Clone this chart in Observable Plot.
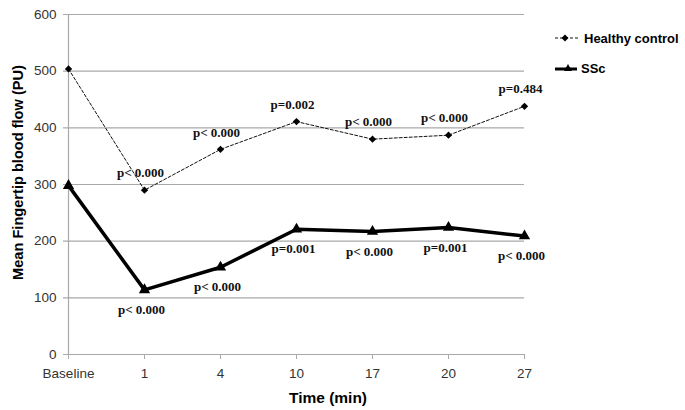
<!DOCTYPE html>
<html>
<head>
<meta charset="utf-8">
<script src="https://cdn.jsdelivr.net/npm/d3@7"></script>
<script src="https://cdn.jsdelivr.net/npm/@observablehq/plot@0.6"></script>
<style>
  html, body { margin: 0; padding: 0; background: #fff; }
  #wrap { position: relative; width: 685px; height: 410px; }
  #legend { position: absolute; left: 555px; top: 27px; font-family: "Liberation Sans", Arial, sans-serif; font-weight: bold; font-size: 13px; color: #000; }
  .row { display: flex; align-items: center; height: 22px; }
  .row svg { margin-right: 2px; }
</style>
</head>
<body>
<div id="wrap">
  <div id="chart"></div>
  <div id="legend"></div>
</div>
<script>
const categories = ["Baseline", "1", "4", "10", "17", "20", "27"];
const healthy = [504, 290, 362, 411, 380, 387, 438];
const ssc = [298, 114, 154, 221, 217, 224, 209];
const healthyP = [null, "p< 0.000", "p< 0.000", "p=0.002", "p< 0.000", "p< 0.000", "p=0.484"];
const sscP = [null, "p< 0.000", "p< 0.000", "p=0.001", "p< 0.000", "p=0.001", "p< 0.000"];
const yTicks = [0, 100, 200, 300, 400, 500, 600];
const seriesNames = ["Healthy control", "SSc"];

const hData = categories.map((t, i) => ({t, v: healthy[i], p: healthyP[i]}));
const sData = categories.map((t, i) => ({t, v: ssc[i], p: sscP[i]}));

const serif = "'Liberation Serif', 'Times New Roman', serif";
const sans = "'Liberation Sans', Arial, sans-serif";

const chart = Plot.plot({
  width: 685,
  height: 410,
  marginLeft: 67,
  marginRight: 161,
  marginTop: 14,
  marginBottom: 56,
  style: {fontFamily: sans, fontSize: "13.5px", background: "#fff"},
  x: {type: "point", domain: categories, padding: 0},
  y: {domain: [0, 600]},
  marks: [
    Plot.ruleY(yTicks, {stroke: "#a9a9a9", strokeWidth: 1.2, insetLeft: -4}),
    Plot.ruleX([categories[0]], {stroke: "#a9a9a9", strokeWidth: 1.2}),
    Plot.axisX({tickSize: 5, tickPadding: 9, stroke: "#a9a9a9", fill: "#333", label: null}),
    Plot.axisY({ticks: yTicks, tickSize: 0, tickPadding: 11, fill: "#333", label: null}),
    Plot.line(hData, {x: "t", y: "v", stroke: "#111", strokeWidth: 1, strokeDasharray: "3,2"}),
    Plot.dot(hData, {x: "t", y: "v", symbol: "diamond2", r: 3.3, fill: "#000", stroke: "none"}),
    Plot.line(sData, {x: "t", y: "v", stroke: "#000", strokeWidth: 3.5}),
    Plot.dot(sData, {x: "t", y: "v", symbol: "triangle", r: 4.2, fill: "#000", stroke: "none"}),
    Plot.text(hData.filter(d => d.p), {x: "t", y: "v", text: "p", dx: -4, dy: -17, fontFamily: serif, fontWeight: "bold", fontSize: 13, fill: "#111"}),
    Plot.text(sData.filter(d => d.p), {x: "t", y: "v", text: "p", dx: -3, dy: 20, fontFamily: serif, fontWeight: "bold", fontSize: 13, fill: "#111"}),
    Plot.text(["Time (min)"], {frameAnchor: "bottom", dx: 32, dy: 44, textAnchor: "middle", lineAnchor: "middle", fontWeight: "bold", fontSize: 15.5, fill: "#000"}),
    Plot.text(["Mean Fingertip blood flow (PU)"], {frameAnchor: "left", rotate: -90, dx: -49, dy: -12, textAnchor: "middle", lineAnchor: "middle", fontWeight: "bold", fontSize: 14.6, fill: "#000"})
  ]
});
document.getElementById("chart").appendChild(chart);

const legend = document.getElementById("legend");
legend.innerHTML =
  `<div class="row"><svg width="27" height="10"><line x1="0" y1="5" x2="25" y2="5" stroke="#111" stroke-width="1" stroke-dasharray="3,2"/><path d="M10,1.5 L13.5,5 L10,8.5 L6.5,5 Z" fill="#000"/></svg><span>${seriesNames[0]}</span></div>` +
  `<div class="row" style="margin-top:8px"><svg width="24" height="10"><line x1="0" y1="6" x2="22" y2="6" stroke="#000" stroke-width="3"/><path d="M13,1 L17,8 L9,8 Z" fill="#000"/></svg><span>${seriesNames[1]}</span></div>`;
</script>
</body>
</html>
